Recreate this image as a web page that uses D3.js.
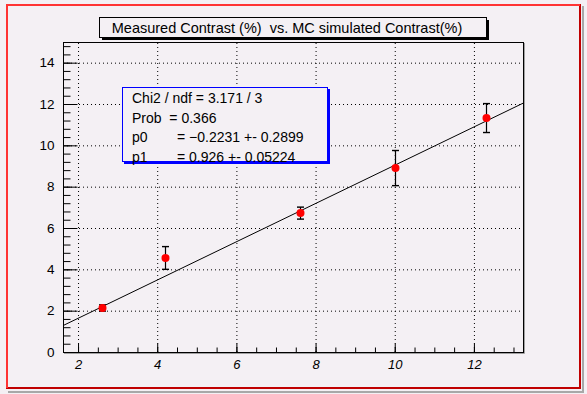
<!DOCTYPE html>
<html>
<head>
<meta charset="utf-8">
<script src="https://cdn.jsdelivr.net/npm/d3@7"></script>
<style>
  html, body { margin: 0; padding: 0; background: #f4f0f4; }
  svg { display: block; font-family: "Liberation Sans", Arial, sans-serif; }
</style>
</head>
<body>
<svg id="chart" width="587" height="394"></svg>
<script>
// measured vs MC simulated contrast, with linear fit
const xVals = [2.6, 4.2, 7.6, 10.0, 12.3];
const yVals = [2.13, 4.55, 6.72, 8.9, 11.32];
const yErrs = [0.15, 0.55, 0.29, 0.85, 0.7];

const fitP0 = -0.2231;
const fitP1 = 0.926;

const xMajor = [2, 4, 6, 8, 10, 12];
const yMajor = [0, 2, 4, 6, 8, 10, 12, 14];

const titleText = 'Measured Contrast (%)  vs. MC simulated Contrast(%)';
const statLabels = ['Chi2 / ndf = 3.171 / 3', 'Prob  = 0.366', 'p0', 'p1'];
const statValues = ['', '', '= \u22120.2231 +- 0.2899', '= 0.926 +- 0.05224'];

const svg = d3.select('#chart');

// pad border (ROOT style raised frame)
svg.append('rect').attr('x', 0).attr('y', 0).attr('width', 587).attr('height', 394).attr('fill', '#f4f0f4');
svg.append('path').attr('d', 'M583,6 V392 H8').attr('fill', 'none').attr('stroke', '#a8a8a8').attr('stroke-width', 2);
svg.append('path').attr('d', 'M580,4 V388 H6').attr('fill', 'none').attr('stroke', '#c00000').attr('stroke-width', 2);
svg.append('path').attr('d', 'M7,388 V5 H580').attr('fill', 'none').attr('stroke', '#ff3333').attr('stroke-width', 2);

const fLeft = 63, fRight = 523, fTop = 42, fBottom = 352;

const x = d3.scaleLinear().domain([1.62, 13.24]).range([fLeft, fRight]);
const y = d3.scaleLinear().domain([0, 15]).range([fBottom, fTop]);

const xMinor = d3.range(2, 13.24, 0.5);
const yMinor = d3.range(0, 15.01, 0.4);

// grid
const grid = svg.append('g');
grid.append('g').attr('transform', `translate(0,${fBottom})`)
  .call(d3.axisBottom(x).tickValues(xMajor).tickSize(-(fBottom - fTop)).tickFormat(''))
  .call(g => g.select('.domain').remove());
grid.append('g').attr('transform', `translate(${fLeft},0)`)
  .call(d3.axisLeft(y).tickValues(yMajor.filter(v => v > 0)).tickSize(-(fRight - fLeft)).tickFormat(''))
  .call(g => g.select('.domain').remove());
grid.selectAll('line').attr('stroke', '#000').attr('stroke-dasharray', '1,3');

// frame shadow + frame
svg.append('path').attr('d', `M${fRight + 1.5},${fTop + 1} V${fBottom + 1.5} H${fLeft + 1}`)
  .attr('fill', 'none').attr('stroke', '#a0a0a0').attr('stroke-width', 1);
svg.append('rect').attr('x', fLeft + 0.5).attr('y', fTop + 0.5)
  .attr('width', fRight - fLeft).attr('height', fBottom - fTop)
  .attr('fill', 'none').attr('stroke', '#000');

// axes ticks
const axX = svg.append('g').attr('transform', `translate(0,${fBottom + 0.5})`);
axX.call(d3.axisBottom(x).tickValues(xMinor).tickSize(-5).tickFormat(''));
axX.append('g').call(d3.axisBottom(x).tickValues(xMajor).tickSize(-9).tickPadding(7).tickFormat(d3.format('d')));
axX.selectAll('.domain').remove();

const axY = svg.append('g').attr('transform', `translate(${fLeft + 0.5},0)`);
axY.call(d3.axisLeft(y).tickValues(yMinor).tickSize(-7).tickFormat(''));
axY.append('g').call(d3.axisLeft(y).tickValues(yMajor).tickSize(-14).tickPadding(9).tickFormat(d3.format('d')));
axY.selectAll('.domain').remove();

axX.selectAll('line').attr('stroke', '#000');
axY.selectAll('line').attr('stroke', '#000');
axX.selectAll('text').attr('font-size', 13).attr('font-style', 'italic').attr('fill', '#000')
  .attr('font-family', '"Liberation Sans", Arial, sans-serif');
axY.selectAll('text').attr('font-size', 13.5).attr('fill', '#000')
  .attr('font-family', '"Liberation Sans", Arial, sans-serif');

// fit line
const fitLine = d3.line().x(d => x(d)).y(d => y(fitP0 + fitP1 * d));
svg.append('path').datum(x.domain())
  .attr('d', fitLine).attr('fill', 'none').attr('stroke', '#000').attr('stroke-width', 1);

// points with error bars
const pts = xVals.map((v, i) => ({ x: v, y: yVals[i], e: yErrs[i] }));
const pg = svg.append('g').selectAll('g').data(pts).join('g');
pg.append('line')
  .attr('x1', d => Math.round(x(d.x)) + 0.5).attr('x2', d => Math.round(x(d.x)) + 0.5)
  .attr('y1', d => y(d.y - d.e)).attr('y2', d => y(d.y + d.e))
  .attr('stroke', '#000').attr('stroke-width', 1.2);
[-1, 1].forEach(s => {
  pg.append('line')
    .attr('x1', d => Math.round(x(d.x)) - 3).attr('x2', d => Math.round(x(d.x)) + 4)
    .attr('y1', d => y(d.y + s * d.e)).attr('y2', d => y(d.y + s * d.e))
    .attr('stroke', '#000').attr('stroke-width', 1.4);
});
pg.append('circle')
  .attr('cx', d => Math.round(x(d.x)) + 0.5).attr('cy', d => y(d.y))
  .attr('r', 4).attr('fill', '#ff0000');

// title box
svg.append('rect').attr('x', 102).attr('y', 20).attr('width', 387).attr('height', 20).attr('fill', '#000');
svg.append('rect').attr('x', 99.5).attr('y', 17.5).attr('width', 387).attr('height', 20)
  .attr('fill', '#f4f0f4').attr('stroke', '#000');
svg.append('text').attr('x', 287).attr('y', 33).attr('text-anchor', 'middle')
  .attr('font-size', 14.5).attr('fill', '#000').style('white-space', 'pre')
  .text(titleText);

// stats box
svg.append('rect').attr('x', 124).attr('y', 89).attr('width', 206).attr('height', 75).attr('fill', '#0000ff');
svg.append('rect').attr('x', 122.5).attr('y', 87.5).attr('width', 205).attr('height', 74)
  .attr('fill', '#f4f0f4').attr('stroke', '#0000ff');
const st = svg.append('g').attr('font-size', 14).attr('fill', '#000');
statLabels.forEach((s, i) => {
  const ty = 103 + i * 19.6;
  st.append('text').attr('x', 132).attr('y', ty).style('white-space', 'pre').text(s);
  if (statValues[i]) st.append('text').attr('x', 177).attr('y', ty).style('white-space', 'pre').text(statValues[i]);
});
</script>
</body>
</html>
